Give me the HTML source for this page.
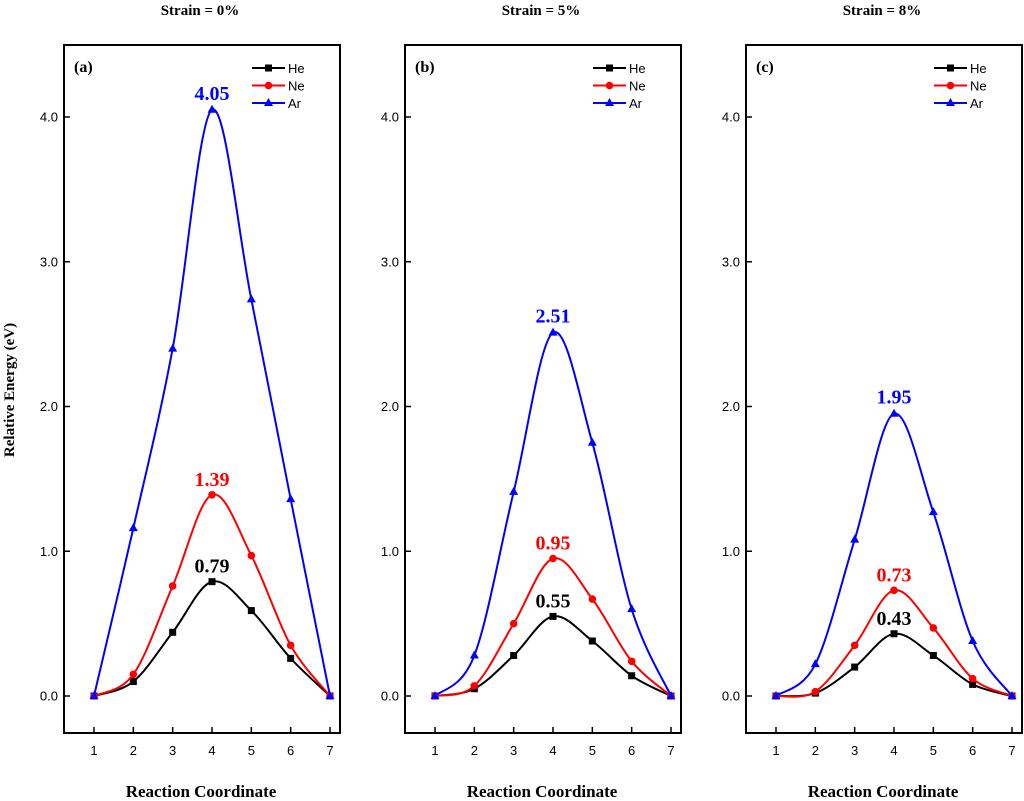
<!DOCTYPE html>
<html><head><meta charset="utf-8"><style>
body{margin:0;background:#fff}
svg{display:block}
</style></head><body>
<svg id="chart" width="1024" height="801" xmlns="http://www.w3.org/2000/svg"></svg>
<script>
const categories=[1,2,3,4,5,6,7];
const yTicks=[0,1,2,3,4];
const yTickLabels=["0.0","1.0","2.0","3.0","4.0"];
const panelTitles=["Strain = 0%","Strain = 5%","Strain = 8%"];
const panelTags=["(a)","(b)","(c)"];
const seriesNames=["He","Ne","Ar"];
const heA=[0,0.10,0.44,0.79,0.59,0.26,0];
const neA=[0,0.15,0.76,1.39,0.97,0.35,0];
const arA=[0,1.16,2.40,4.05,2.74,1.36,0];
const heB=[0,0.05,0.28,0.55,0.38,0.14,0];
const neB=[0,0.07,0.50,0.95,0.67,0.24,0];
const arB=[0,0.28,1.41,2.51,1.75,0.60,0];
const heC=[0,0.02,0.20,0.43,0.28,0.08,0];
const neC=[0,0.03,0.35,0.73,0.47,0.12,0];
const arC=[0,0.22,1.08,1.95,1.27,0.38,0];
const peakLabels=[["0.79","1.39","4.05"],["0.55","0.95","2.51"],["0.43","0.73","1.95"]];

const NS="http://www.w3.org/2000/svg";
const svg=document.getElementById('chart');
const colors=["#000","#f00","#00f"];
const panels=[[heA,neA,arA],[heB,neB,arB],[heC,neC,arC]];
const lefts=[64,405,746];
const W=276, topY=45, botY=733;
function mk(tag,attrs,parent,text){const e=document.createElementNS(NS,tag);for(const k in attrs)e.setAttribute(k,attrs[k]);if(text!==undefined)e.textContent=text;(parent||svg).appendChild(e);return e;}

const yt=mk('text',{x:0,y:0,transform:'translate(14,390) rotate(-90)','text-anchor':'middle','font-family':'Liberation Serif, serif','font-weight':'bold','font-size':'15'},svg,'Relative Energy (eV)');



panels.forEach((ser,p)=>{
  const L=lefts[p];
  const g=mk('g',{});
  
  
  const xs=v=>L+30+(v-1)*(236/6);
  const ys=v=>696-v*144.75;
  ser.forEach((vals,si)=>{
    const pts=categories.map((c,i)=>[xs(c),ys(vals[i])]);
    let d='M'+pts[0][0]+','+pts[0][1];
    for(let i=0;i<pts.length-1;i++){
      const p0=pts[Math.max(0,i-1)],p1=pts[i],p2=pts[i+1],p3=pts[Math.min(pts.length-1,i+2)];
      const t=1/6;
      d+=' C'+(p1[0]+(p2[0]-p0[0])*t)+','+(p1[1]+(p2[1]-p0[1])*t)+' '+(p2[0]-(p3[0]-p1[0])*t)+','+(p2[1]-(p3[1]-p1[1])*t)+' '+p2[0]+','+p2[1];
    }
    const path=mk('path',{d:d,fill:'none',stroke:colors[si],'stroke-width':'2'},g);
    
    
    pts.forEach(pt=>{
      let m;
      if(si===0) m=mk('rect',{x:pt[0]-3.5,y:pt[1]-3.5,width:7,height:7,fill:colors[si]},g);
      else if(si===1) m=mk('circle',{cx:pt[0],cy:pt[1],r:3.8,fill:colors[si]},g);
      else m=mk('path',{d:`M${pt[0]},${pt[1]-5}L${pt[0]+4.5},${pt[1]+3}L${pt[0]-4.5},${pt[1]+3}Z`,fill:colors[si]},g);
      
      
    });
    const pk=mk('text',{x:xs(4),y:ys(vals[3])-(si===2?10:9),'text-anchor':'middle','font-family':'Liberation Serif, serif','font-weight':'bold','font-size':'20',fill:colors[si]},g,peakLabels[p][si]);
    
    
  });
  const fr=mk('rect',{x:L,y:topY,width:W,height:botY-topY,fill:'none',stroke:'#000','stroke-width':'2'},g);
  
  
  yTicks.forEach((t,i)=>{
    mk('line',{x1:L,x2:L+6,y1:ys(t),y2:ys(t),stroke:'#000','stroke-width':'1.5'},g);
    const tl=mk('text',{x:L-6,y:ys(t)+4.5,'text-anchor':'end','font-family':'Liberation Sans, sans-serif','font-size':'13'},g,yTickLabels[i]);
    
    
  });
  categories.forEach(c=>{
    mk('line',{x1:xs(c),x2:xs(c),y1:botY,y2:botY-6,stroke:'#000','stroke-width':'1.5'},g);
    const tl=mk('text',{x:xs(c),y:botY+22,'text-anchor':'middle','font-family':'Liberation Sans, sans-serif','font-size':'13'},g,String(c));
    
    
  });
  const tt=mk('text',{x:L+W/2-2,y:15,'text-anchor':'middle','font-family':'Liberation Serif, serif','font-weight':'bold','font-size':'15'},g,panelTitles[p]);
  
  
  const xt=mk('text',{x:L+W/2-1,y:797,'text-anchor':'middle','font-family':'Liberation Serif, serif','font-weight':'bold','font-size':'17'},g,'Reaction Coordinate');
  
  
  const tg=mk('text',{x:L+10,y:72,'font-family':'Liberation Serif, serif','font-weight':'bold','font-size':'16'},g,panelTags[p]);
  
  
  seriesNames.forEach((n,si)=>{
    const ly=68+si*17.5, lx=L+W-88;
    const le=mk('g',{},g);
    
    
    mk('line',{x1:lx,x2:lx+33,y1:ly,y2:ly,stroke:colors[si],'stroke-width':'2'},le);
    const cx=lx+16.5;
    if(si===0) mk('rect',{x:cx-3.5,y:ly-3.5,width:7,height:7,fill:colors[si]},le);
    else if(si===1) mk('circle',{cx:cx,cy:ly,r:3.8,fill:colors[si]},le);
    else mk('path',{d:`M${cx},${ly-5}L${cx+4.5},${ly+3}L${cx-4.5},${ly+3}Z`,fill:colors[si]},le);
    mk('text',{x:lx+36,y:ly+5,'font-family':'Liberation Sans, sans-serif','font-size':'13'},le,n);
  });
});
</script>
</body></html>
